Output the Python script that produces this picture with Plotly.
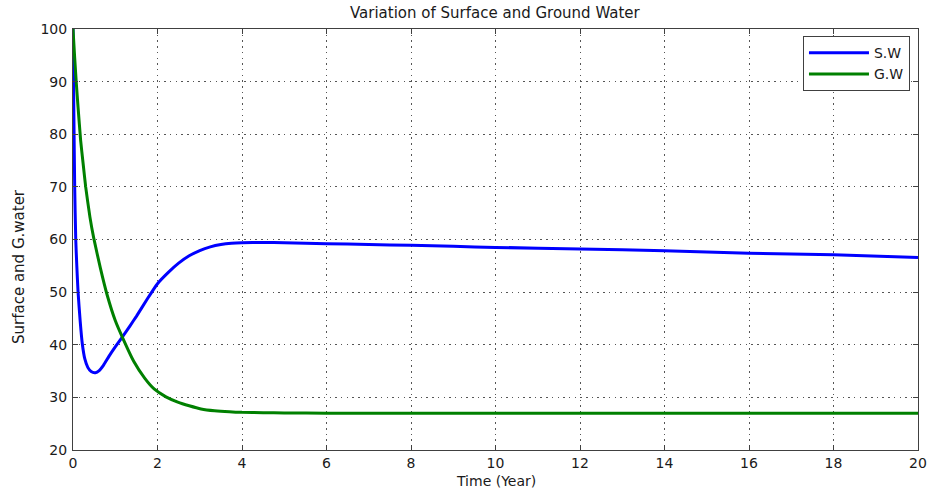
import plotly.graph_objects as go

# Surface water (S.W)
t_sw = [0, 0.02, 0.04, 0.065, 0.09, 0.12, 0.17, 0.22, 0.28, 0.35, 0.43, 0.53,
        0.62, 0.72, 0.85, 1.0, 1.17, 1.35, 1.5, 1.75, 2.0, 2.25, 2.5, 2.75,
        3.0, 3.25, 3.5, 3.75, 4.0, 4.5, 5, 6, 7, 8, 9, 10, 12, 14, 16, 18, 20]
sw = [100, 84, 70, 60, 55, 50, 44.5, 40.2, 37.3, 35.7, 34.9, 34.7,
      35.1, 36.1, 37.8, 39.6, 41.5, 43.6, 45.4, 48.6, 51.6, 53.7, 55.5, 56.9,
      57.9, 58.6, 59.05, 59.3, 59.4, 59.45, 59.4, 59.2, 59.05, 58.9, 58.7, 58.5,
      58.2, 57.85, 57.4, 57.1, 56.6]

# Ground water (G.W)
t_gw = [0, 0.04, 0.08, 0.12, 0.18, 0.24, 0.3, 0.4, 0.49, 0.65, 0.81, 1.0,
        1.17, 1.44, 1.7, 1.92, 2.2, 2.48, 2.75, 3.03, 3.35, 3.7, 4.0, 4.5,
        5, 6, 8, 10, 12, 14, 16, 18, 20]
gw = [100, 94.5, 89.5, 85.1, 78.9, 74.4, 70.0, 64.3, 60.3, 54.5, 49.4, 44.6,
      41.4, 36.8, 33.6, 31.6, 30.1, 29.1, 28.4, 27.8, 27.45, 27.25, 27.15, 27.1,
      27.05, 27.0, 27.0, 27.0, 27.0, 27.0, 27.0, 27.0, 27.0]

x_ticks = list(range(0, 21, 2))
y_ticks = list(range(20, 101, 10))

FONT = "DejaVu Sans"
AX = "#404040"

fig = go.Figure()
fig.add_trace(go.Scatter(x=t_sw, y=sw, mode="lines", name="S.W",
                         line=dict(color="#0000FF", width=3, shape="spline", smoothing=0.5)))
fig.add_trace(go.Scatter(x=t_gw, y=gw, mode="lines", name="G.W",
                         line=dict(color="#008000", width=3, shape="spline", smoothing=0.5)))

axis_common = dict(
    showline=True, linecolor=AX, linewidth=1, mirror="ticks",
    ticks="inside", ticklen=5, tickcolor=AX, tickwidth=1,
    showgrid=True, gridcolor="#555555", gridwidth=1, griddash="1.5px,4.2px",
    zeroline=False, automargin=False,
    tickfont=dict(family=FONT, size=14, color="#1a1a1a"),
)

fig.update_xaxes(range=[0, 20], tickvals=x_ticks, **axis_common)
fig.update_yaxes(range=[20, 100], tickvals=y_ticks, ticklabelstandoff=2, **axis_common)

fig.update_layout(
    width=929, height=495,
    margin=dict(l=73, r=11, t=29, b=45, autoexpand=False),
    paper_bgcolor="white", plot_bgcolor="white",
    showlegend=True,
    legend=dict(x=0.9905, y=0.983, xanchor="right", yanchor="top",
                bgcolor="white", bordercolor=AX, borderwidth=1, itemwidth=60,
                font=dict(family=FONT, size=14, color="#1a1a1a")),
    annotations=[
        dict(text="Variation of Surface and Ground Water", xref="paper", yref="paper",
             x=0.5, y=1, yshift=16, showarrow=False, xanchor="center", yanchor="middle",
             font=dict(family=FONT, size=15, color="#1a1a1a")),
        dict(text="Time (Year)", xref="paper", yref="paper",
             x=0.5, y=0, yshift=-31, showarrow=False, xanchor="center", yanchor="middle",
             font=dict(family=FONT, size=14, color="#1a1a1a")),
        dict(text="Surface and G.water", xref="paper", yref="paper",
             x=0, y=(450 - 267) / 421, xshift=-54, showarrow=False, textangle=-90,
             xanchor="center", yanchor="middle",
             font=dict(family=FONT, size=15, color="#1a1a1a")),
    ],
)

fig.write_html("out.html")
